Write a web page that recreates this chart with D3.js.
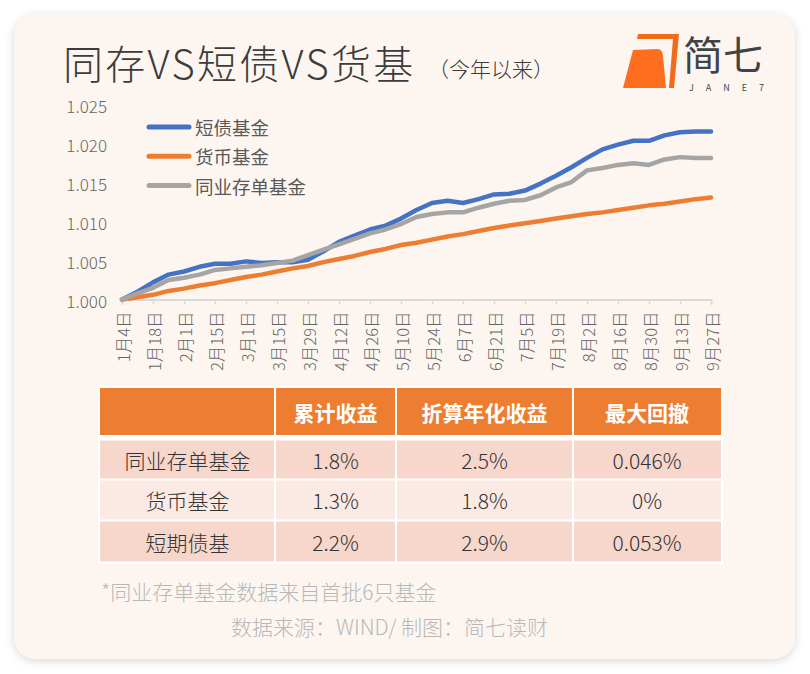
<!DOCTYPE html>
<html>
<head>
<meta charset="utf-8">
<script src="https://cdn.jsdelivr.net/npm/d3@7"></script>
<style>
  html, body { margin: 0; padding: 0; background: #fff; }
  svg { display: block; font-family: "Noto Sans CJK SC", "Noto Sans", sans-serif; }
</style>
</head>
<body>
<svg width="810" height="674"></svg>
<script>
// weekly samples (2021)
var dates = ["2021-01-04","2021-01-11","2021-01-18","2021-01-25","2021-02-01","2021-02-08","2021-02-15","2021-02-22",
  "2021-03-01","2021-03-08","2021-03-15","2021-03-22","2021-03-29","2021-04-05","2021-04-12","2021-04-19","2021-04-26",
  "2021-05-03","2021-05-10","2021-05-17","2021-05-24","2021-05-31","2021-06-07","2021-06-14","2021-06-21","2021-06-28",
  "2021-07-05","2021-07-12","2021-07-19","2021-07-26","2021-08-02","2021-08-09","2021-08-16","2021-08-23","2021-08-30",
  "2021-09-06","2021-09-13","2021-09-20","2021-09-27"];

var shortBond = [1.0000,1.0010,1.0022,1.0032,1.0036,1.0042,1.0046,1.0046,1.0049,1.0047,1.0048,1.0048,1.0051,1.0062,
  1.0074,1.0082,1.0090,1.0095,1.0104,1.0115,1.0124,1.0127,1.0124,1.0129,1.0135,1.0136,1.0140,1.0149,1.0159,1.0170,
  1.0182,1.0193,1.0199,1.0204,1.0204,1.0211,1.0215,1.0216,1.0216];
var moneyFund = [1.0000,1.0003,1.0006,1.0011,1.0014,1.0018,1.0021,1.0025,1.0029,1.0032,1.0036,1.0040,1.0043,1.0048,
  1.0052,1.0056,1.0061,1.0065,1.0070,1.0073,1.0077,1.0081,1.0084,1.0088,1.0092,1.0095,1.0098,1.0101,1.0104,1.0107,
  1.0110,1.0112,1.0115,1.0118,1.0121,1.0123,1.0126,1.0129,1.0131];
var ncdFund = [1.0000,1.0008,1.0015,1.0025,1.0028,1.0032,1.0038,1.0040,1.0042,1.0044,1.0047,1.0050,1.0057,1.0064,
  1.0071,1.0078,1.0085,1.0090,1.0097,1.0106,1.0110,1.0112,1.0112,1.0118,1.0123,1.0127,1.0128,1.0134,1.0144,1.0151,
  1.0166,1.0169,1.0173,1.0175,1.0173,1.0180,1.0183,1.0182,1.0182];

var seriesNames = ["短债基金", "货币基金", "同业存单基金"];
var seriesColors = ["#4472c4", "#ed7d31", "#a5a5a5"];

var yTicks = [1.000, 1.005, 1.010, 1.015, 1.020, 1.025];
var xTickDates = ["2021-01-04","2021-01-18","2021-02-01","2021-02-15","2021-03-01","2021-03-15","2021-03-29",
  "2021-04-12","2021-04-26","2021-05-10","2021-05-24","2021-06-07","2021-06-21","2021-07-05","2021-07-19",
  "2021-08-02","2021-08-16","2021-08-30","2021-09-13","2021-09-27"];

// table
var tableHeaders = ["", "累计收益", "折算年化收益", "最大回撤"];
var rowNames = ["同业存单基金", "货币基金", "短期债基"];
var cumReturn = ["1.8%", "1.3%", "2.2%"];
var annualReturn = ["2.5%", "1.8%", "2.9%"];
var maxDrawdown = ["0.046%", "0%", "0.053%"];

var parse = d3.utcParse("%Y-%m-%d");
var svg = d3.select("svg");

// card
var defs = svg.append("defs");
var f = defs.append("filter").attr("id", "shadow").attr("x", "-5%").attr("y", "-5%").attr("width", "110%").attr("height", "110%");
f.append("feDropShadow").attr("dx", 0).attr("dy", 2).attr("stdDeviation", 5)
  .attr("flood-color", "#000").attr("flood-opacity", 0.16);
svg.append("rect").attr("x", 14).attr("y", 14).attr("width", 781).attr("height", 645).attr("rx", 22)
  .attr("fill", "#fdf6f0").attr("filter", "url(#shadow)");

// title
svg.append("text").attr("x", 63).attr("y", 62).attr("dominant-baseline", "central")
  .attr("font-size", 40).attr("font-weight", 300).attr("letter-spacing", "2.3px")
  .attr("fill", "#3c3c3c").text("同存VS短债VS货基");
svg.append("text").attr("x", 428).attr("y", 68).attr("dominant-baseline", "central")
  .attr("font-size", 21).attr("font-weight", 300).attr("fill", "#3c3c3c").text("（今年以来）");

// logo
var logo = svg.append("g");
logo.append("path").attr("d", "M638,34 L679,34 L674,88 L669,88 L673,39 L637,39 Z").attr("fill", "#f26a1b");
logo.append("path").attr("d", "M633,50 L658,49 Q663,50 663,56 L666,88 L623,88 Z").attr("fill", "#ff6d1f");
logo.append("text").attr("x", 683).attr("y", 53).attr("dominant-baseline", "central")
  .attr("font-size", 40).attr("fill", "#3f4448").text("简七");
logo.append("text").attr("x", 689).attr("y", 87).attr("dominant-baseline", "central")
  .attr("font-size", 9).attr("letter-spacing", "12px").attr("fill", "#3f4448").text("JANE7");

// chart
var x = d3.scaleUtc().domain([parse(dates[0]), parse(dates[dates.length - 1])]).range([122, 711]);
var y = d3.scaleLinear().domain([1.000, 1.025]).range([299.5, 105]);

var yG = svg.append("g").attr("transform", "translate(107,0)")
  .call(d3.axisLeft(y).tickValues(yTicks).tickFormat(d3.format(".3f")).tickSize(0).tickPadding(0));
yG.select(".domain").remove();
yG.selectAll("text").attr("font-size", 17).attr("font-weight", 300).attr("fill", "#666")
  .attr("font-family", "Noto Sans CJK SC").attr("dy", null).attr("dominant-baseline", "central");

var xG = svg.append("g").attr("transform", "translate(0,299.5)")
  .call(d3.axisBottom(x).tickValues(xTickDates.map(parse)).tickSize(5)
    .tickFormat(function(d) { return (d.getUTCMonth() + 1) + "月" + d.getUTCDate() + "日"; }));
xG.select(".domain").attr("stroke", "#d9d9d9").attr("stroke-width", 1.8);
xG.selectAll(".tick line").attr("stroke", "#d9d9d9").attr("stroke-width", 1.5);
xG.selectAll("text").attr("font-size", 16.5).attr("font-weight", 300).attr("fill", "#666")
  .attr("font-family", "Noto Sans CJK SC")
  .attr("transform", "rotate(-90)").attr("text-anchor", "end")
  .attr("x", -12).attr("y", 0).attr("dy", null).attr("dominant-baseline", "central");

var series = [shortBond, moneyFund, ncdFund];
var line = d3.line().x(function(d, i) { return x(parse(dates[i])); }).y(function(d) { return y(d); });

svg.append("g").selectAll("path").data(series).join("path")
  .attr("d", line).attr("fill", "none")
  .attr("stroke", function(d, i) { return seriesColors[i]; })
  .attr("stroke-width", 4.5).attr("stroke-linejoin", "round").attr("stroke-linecap", "round");

// legend
var lg = svg.append("g").selectAll("g").data(seriesNames).join("g")
  .attr("transform", function(d, i) { return "translate(0," + (127 + i * 29.3) + ")"; });
lg.append("line").attr("x1", 149).attr("x2", 189).attr("y1", 0).attr("y2", 0)
  .attr("stroke", function(d, i) { return seriesColors[i]; }).attr("stroke-width", 5).attr("stroke-linecap", "round");
lg.append("text").attr("x", 195).attr("y", 0).attr("dominant-baseline", "central")
  .attr("font-size", 18.5).attr("fill", "#595959").text(function(d) { return d; });

// table
var colEdges = [100, 275, 396, 573, 721];
var rowEdges = [[388, 435], [440.5, 478.5], [480.5, 519.5], [521.5, 561.5]];
var rowFill = ["#ed7d31", "#f7d6cb", "#fbe9e3", "#f7d6cb"];
var tableRows = [tableHeaders].concat(rowNames.map(function(n, i) {
  return [n, cumReturn[i], annualReturn[i], maxDrawdown[i]];
}));

svg.append("rect").attr("x", 98).attr("y", 386).attr("width", 625).attr("height", 178).attr("fill", "#fff");

var tr = svg.append("g").selectAll("g").data(tableRows).join("g");
tr.each(function(row, ri) {
  var g = d3.select(this);
  row.forEach(function(cell, ci) {
    var x0 = colEdges[ci] + (ci > 0 ? 1 : 0), x1 = colEdges[ci + 1] - (ci < 3 ? 1 : 0);
    g.append("rect").attr("x", x0).attr("y", rowEdges[ri][0])
      .attr("width", x1 - x0).attr("height", rowEdges[ri][1] - rowEdges[ri][0]).attr("fill", rowFill[ri]);
    g.append("text").attr("x", (colEdges[ci] + colEdges[ci + 1]) / 2)
      .attr("y", (rowEdges[ri][0] + rowEdges[ri][1]) / 2)
      .attr("text-anchor", "middle").attr("dominant-baseline", "central")
      .attr("font-size", 21).attr("font-weight", ri === 0 ? 700 : 300)
      .attr("fill", ri === 0 ? "#fff" : "#333").text(cell);
  });
});

// footnotes
svg.append("text").attr("x", 101).attr("y", 591).attr("dominant-baseline", "central")
  .attr("font-size", 21).attr("font-weight", 300).attr("fill", "#b8b8b8").text("*同业存单基金数据来自首批6只基金");
svg.append("text").attr("x", 231).attr("y", 626).attr("dominant-baseline", "central")
  .attr("font-size", 21).attr("font-weight", 300).attr("fill", "#b8b8b8").text("数据来源：WIND/ 制图：简七读财");
</script>
</body>
</html>
